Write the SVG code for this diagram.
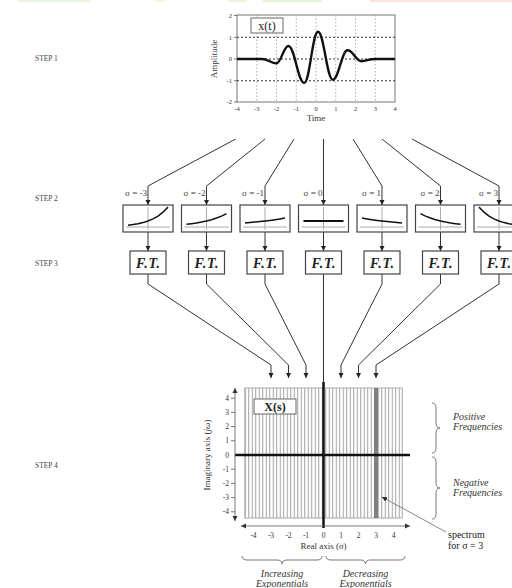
<svg xmlns="http://www.w3.org/2000/svg" width="512" height="588" viewBox="0 0 512 588">
<style>
  text { font-family: "Liberation Serif", "Times New Roman", serif; }
  .step { font-size: 7.5px; fill: #444; }
  .tick { font-size: 6.5px; fill: #333; }
  .tick2 { font-size: 7.5px; fill: #333; }
  .lab { font-size: 9px; fill: #333; }
  .sig { font-size: 9px; fill: #444; text-anchor: end; }
  .ft { font-size: 14px; font-weight: bold; font-style: italic; fill: #222; text-anchor: middle; letter-spacing: 0.8px; }
  .it { font-size: 10px; font-style: italic; fill: #333; }
  .conn { fill: none; stroke: #333; stroke-width: 1; }
  .box { fill: #fff; stroke: #444; stroke-width: 1.2; }
  .guide { stroke: #aaa; stroke-width: 1; fill: none; }
  .curve { fill: none; stroke: #111; stroke-width: 1.5; }
  .brace { fill: none; stroke: #777; stroke-width: 1; }
</style>
<defs>
  <marker id="arr" markerUnits="userSpaceOnUse" markerWidth="6" markerHeight="6" refX="5" refY="3" orient="auto">
    <path d="M0,0.5 L5,3 L0,5.5 z" fill="#222"/>
  </marker>
  <marker id="arrS" markerUnits="userSpaceOnUse" markerWidth="6" markerHeight="6" refX="5" refY="3" orient="auto-start-reverse">
    <path d="M0,0.5 L5,3 L0,5.5 z" fill="#333"/>
  </marker>
  <pattern id="hatch" x="244.75" y="0" width="3.5" height="4" patternUnits="userSpaceOnUse">
    <rect width="3.5" height="4" fill="#fff"/>
    <rect x="0" width="1" height="4" fill="#a0a0a0"/>
  </pattern>
</defs>

<!-- faint colour bars at top edge -->
<g id="topbars">
  <rect x="18" y="0" width="72" height="2" fill="#eaf6dc"/>
  <rect x="155" y="0" width="10" height="2" fill="#f2f6dc"/>
  <rect x="228" y="0" width="19" height="2" fill="#eaf6dc"/>
  <rect x="263" y="0" width="59" height="2" fill="#e4f3d6"/>
  <rect x="370" y="0" width="142" height="2" fill="#fde3dc"/>
</g>

<!-- step labels -->
<g id="steps">
  <text class="step" x="35" y="61">STEP 1</text>
  <text class="step" x="35" y="201">STEP 2</text>
  <text class="step" x="35" y="266">STEP 3</text>
  <text class="step" x="35" y="468">STEP 4</text>
</g>

<!-- STEP 1: time signal plot -->
<g id="signal-plot">
  <rect x="237" y="15" width="158" height="87" fill="#fff" stroke="#777" stroke-width="1"/>
  <g stroke="#999" stroke-width="0.8" stroke-dasharray="1.5 2">
    <line x1="256.75" y1="15" x2="256.75" y2="102"/>
    <line x1="276.5" y1="15" x2="276.5" y2="102"/>
    <line x1="296.25" y1="15" x2="296.25" y2="102"/>
    <line x1="316" y1="15" x2="316" y2="102"/>
    <line x1="335.75" y1="15" x2="335.75" y2="102"/>
    <line x1="355.5" y1="15" x2="355.5" y2="102"/>
    <line x1="375.25" y1="15" x2="375.25" y2="102"/>
  </g>
  <g stroke="#333" stroke-width="1.2" stroke-dasharray="2 2">
    <line x1="237" y1="37.25" x2="395" y2="37.25"/>
    <line x1="237" y1="59" x2="395" y2="59"/>
    <line x1="237" y1="80.75" x2="395" y2="80.75"/>
  </g>
  <g stroke="#555" stroke-width="0.8">
    <line x1="234" y1="15.5" x2="237" y2="15.5"/>
    <line x1="234" y1="37.25" x2="237" y2="37.25"/>
    <line x1="234" y1="59" x2="237" y2="59"/>
    <line x1="234" y1="80.75" x2="237" y2="80.75"/>
    <line x1="234" y1="102" x2="237" y2="102"/>
  </g>
  <g class="tick" text-anchor="end">
    <text x="232" y="17.5">2</text>
    <text x="232" y="39.5">1</text>
    <text x="232" y="61">0</text>
    <text x="232" y="83">-1</text>
    <text x="232" y="104">-2</text>
  </g>
  <g class="tick" text-anchor="middle">
    <text x="237" y="111">-4</text>
    <text x="256.75" y="111">-3</text>
    <text x="276.5" y="111">-2</text>
    <text x="296.25" y="111">-1</text>
    <text x="316" y="111">0</text>
    <text x="335.75" y="111">1</text>
    <text x="355.5" y="111">2</text>
    <text x="375.25" y="111">3</text>
    <text x="395" y="111">4</text>
  </g>
  <text class="lab" x="316" y="121" text-anchor="middle" font-size="9.5">Time</text>
  <text class="lab" transform="translate(217,59) rotate(-90)" text-anchor="middle" font-size="9">Amplitude</text>
  <path d="M237,59 L262,59 C268,59 271,63.4 276.5,63.4 C281,63.4 283.6,46 288.4,46 C294.7,46 297.9,82.9 304.2,82.9 C309.7,82.9 312.5,31.8 318,31.8 C323.9,31.8 326.9,79.7 332.8,79.7 C338.7,79.7 341.7,50.3 347.6,50.3 C353.1,50.3 355.9,61.2 361.4,61.2 C366,61.2 369,59 375,59 L395,59" fill="none" stroke="#111" stroke-width="2.4"/>
  <rect x="251" y="18" width="32" height="15" fill="#fff" stroke="#666" stroke-width="1"/>
  <text x="267" y="29.5" text-anchor="middle" font-size="12" fill="#222">x(t)</text>
</g>

<!-- connectors -->
<g id="connectors">
  <path class="conn" d="M235.7,139 L148,186 L148,205" marker-end="url(#arr)"/>
  <path class="conn" d="M265,139 L206.5,186 L206.5,205" marker-end="url(#arr)"/>
  <path class="conn" d="M294,139 L265,186 L265,205" marker-end="url(#arr)"/>
  <path class="conn" d="M323.5,139 L323.5,205" marker-end="url(#arr)"/>
  <path class="conn" d="M353,139 L382,186 L382,205" marker-end="url(#arr)"/>
  <path class="conn" d="M382,139 L440.5,186 L440.5,205" marker-end="url(#arr)"/>
  <path class="conn" d="M412,139 L499,186 L499,205" marker-end="url(#arr)"/>

  <path class="conn" d="M148,232 L148,251" marker-end="url(#arr)"/>
  <path class="conn" d="M206.5,232 L206.5,251" marker-end="url(#arr)"/>
  <path class="conn" d="M265,232 L265,251" marker-end="url(#arr)"/>
  <path class="conn" d="M323.5,232 L323.5,251" marker-end="url(#arr)"/>
  <path class="conn" d="M382,232 L382,251" marker-end="url(#arr)"/>
  <path class="conn" d="M440.5,232 L440.5,251" marker-end="url(#arr)"/>
  <path class="conn" d="M499,232 L499,251" marker-end="url(#arr)"/>

  <path class="conn" d="M148,274 L148,284 L271,365 L271,378" marker-end="url(#arr)"/>
  <path class="conn" d="M206.5,274 L206.5,284 L288.5,365 L288.5,378" marker-end="url(#arr)"/>
  <path class="conn" d="M265,274 L265,284 L306,365 L306,378" marker-end="url(#arr)"/>
  <path class="conn" d="M323.5,274 L323.5,383"/>
  <path class="conn" d="M382,274 L382,284 L341,365 L341,378" marker-end="url(#arr)"/>
  <path class="conn" d="M440.5,274 L440.5,284 L358.5,365 L358.5,378" marker-end="url(#arr)"/>
  <path class="conn" d="M499,274 L499,284 L376,365 L376,378" marker-end="url(#arr)"/>
</g>

<!-- STEP 2: exponential weighting boxes -->
<g id="exp-m3">
  <text class="sig" x="147" y="196">σ = -3</text>
  <rect class="box" x="123" y="205" width="50" height="27"/>
  <line class="guide" x1="126" y1="227" x2="170" y2="227"/>
  <line class="guide" x1="148" y1="207" x2="148" y2="230"/>
  <polyline class="curve" points="128,225.2 133,224.6 138,223.7 143,222.6 148,221 153,218.9 158,216.1 163,212.2 168,207.1"/>
</g>
<g id="exp-m2">
  <text class="sig" x="205.5" y="196">σ = -2</text>
  <rect class="box" x="181.5" y="205" width="50" height="27"/>
  <line class="guide" x1="184.5" y1="227" x2="228.5" y2="227"/>
  <line class="guide" x1="206.5" y1="207" x2="206.5" y2="230"/>
  <polyline class="curve" points="186.5,224.3 191.5,223.7 196.5,223 201.5,222.1 206.5,221 211.5,219.7 216.5,218 221.5,216.1 226.5,213.6"/>
</g>
<g id="exp-m1">
  <text class="sig" x="264" y="196">σ = -1</text>
  <rect class="box" x="240" y="205" width="50" height="27"/>
  <line class="guide" x1="243" y1="227" x2="287" y2="227"/>
  <line class="guide" x1="265" y1="207" x2="265" y2="230"/>
  <polyline class="curve" points="245,223 250,222.6 255,222.1 260,221.6 265,221 270,220.4 275,219.7 280,218.9 285,218"/>
</g>
<g id="exp-0">
  <text class="sig" x="322.5" y="196">σ = 0</text>
  <rect class="box" x="298.5" y="205" width="50" height="27"/>
  <line class="guide" x1="301.5" y1="227" x2="345.5" y2="227"/>
  <line class="guide" x1="323.5" y1="207" x2="323.5" y2="230"/>
  <line x1="303.5" y1="221" x2="343.5" y2="221" stroke="#111" stroke-width="2"/>
</g>
<g id="exp-p1">
  <text class="sig" x="381" y="196">σ = 1</text>
  <rect class="box" x="357" y="205" width="50" height="27"/>
  <line class="guide" x1="360" y1="227" x2="404" y2="227"/>
  <line class="guide" x1="382" y1="207" x2="382" y2="230"/>
  <polyline class="curve" points="362,218 367,218.9 372,219.7 377,220.4 382,221 387,221.6 392,222.1 397,222.6 402,223"/>
</g>
<g id="exp-p2">
  <text class="sig" x="439.5" y="196">σ = 2</text>
  <rect class="box" x="415.5" y="205" width="50" height="27"/>
  <line class="guide" x1="418.5" y1="227" x2="462.5" y2="227"/>
  <line class="guide" x1="440.5" y1="207" x2="440.5" y2="230"/>
  <polyline class="curve" points="420.5,213.6 425.5,216.1 430.5,218 435.5,219.7 440.5,221 445.5,222.1 450.5,223 455.5,223.7 460.5,224.3"/>
</g>
<g id="exp-p3">
  <text class="sig" x="498" y="196">σ = 3</text>
  <rect class="box" x="474" y="205" width="50" height="27"/>
  <line class="guide" x1="477" y1="227" x2="521" y2="227"/>
  <line class="guide" x1="499" y1="207" x2="499" y2="230"/>
  <polyline class="curve" points="479,207.1 484,212.2 489,216.1 494,218.9 499,221 504,222.6 509,223.7 514,224.6 519,225.2"/>
</g>

<!-- STEP 3: Fourier transform boxes -->
<g id="ft-m3"><rect class="box" x="130" y="251" width="36" height="23"/><text class="ft" x="148.4" y="267.5">F.T.</text></g>
<g id="ft-m2"><rect class="box" x="188.5" y="251" width="36" height="23"/><text class="ft" x="206.9" y="267.5">F.T.</text></g>
<g id="ft-m1"><rect class="box" x="247" y="251" width="36" height="23"/><text class="ft" x="265.4" y="267.5">F.T.</text></g>
<g id="ft-0"><rect class="box" x="305.5" y="251" width="36" height="23"/><text class="ft" x="323.9" y="267.5">F.T.</text></g>
<g id="ft-p1"><rect class="box" x="364" y="251" width="36" height="23"/><text class="ft" x="382.4" y="267.5">F.T.</text></g>
<g id="ft-p2"><rect class="box" x="422.5" y="251" width="36" height="23"/><text class="ft" x="440.9" y="267.5">F.T.</text></g>
<g id="ft-p3"><rect class="box" x="481" y="251" width="36" height="23"/><text class="ft" x="499.4" y="267.5">F.T.</text></g>

<!-- STEP 4: s-plane -->
<g id="s-plane">
  <rect x="244.75" y="388" width="157.5" height="130" fill="url(#hatch)" stroke="#aaa" stroke-width="1"/>
  <line x1="376" y1="388" x2="376" y2="518" stroke="#808080" stroke-width="4"/>
  <line x1="235" y1="455" x2="410" y2="455" stroke="#111" stroke-width="2.5"/>
  <line x1="323.5" y1="382" x2="323.5" y2="528" stroke="#111" stroke-width="2.5"/>
  <rect x="254" y="399" width="42" height="15" fill="#fff" stroke="#666" stroke-width="1"/>
  <text x="275" y="411" text-anchor="middle" font-size="12" font-weight="bold" fill="#222">X(s)</text>

  <!-- vertical axis -->
  <line x1="235" y1="388" x2="235" y2="521" stroke="#555" stroke-width="0.8" marker-start="url(#arrS)" marker-end="url(#arrS)"/>
  <g stroke="#555" stroke-width="0.8">
    <line x1="231" y1="398.2" x2="235" y2="398.2"/>
    <line x1="231" y1="412.4" x2="235" y2="412.4"/>
    <line x1="231" y1="426.6" x2="235" y2="426.6"/>
    <line x1="231" y1="440.8" x2="235" y2="440.8"/>
    <line x1="231" y1="469.2" x2="235" y2="469.2"/>
    <line x1="231" y1="483.4" x2="235" y2="483.4"/>
    <line x1="231" y1="497.6" x2="235" y2="497.6"/>
    <line x1="231" y1="511.8" x2="235" y2="511.8"/>
  </g>
  <g class="tick2" text-anchor="end">
    <text x="229" y="400.8">4</text>
    <text x="229" y="415">3</text>
    <text x="229" y="429.2">2</text>
    <text x="229" y="443.4">1</text>
    <text x="229" y="457.6">0</text>
    <text x="229" y="471.8">-1</text>
    <text x="229" y="486">-2</text>
    <text x="229" y="500.2">-3</text>
    <text x="229" y="514.4">-4</text>
  </g>
  <text class="lab" transform="translate(210,455) rotate(-90)" text-anchor="middle" font-size="10">Imaginary axis (<tspan font-style="italic">jω</tspan>)</text>

  <!-- horizontal axis -->
  <line x1="241" y1="526" x2="410" y2="526" stroke="#555" stroke-width="0.8" marker-start="url(#arrS)" marker-end="url(#arrS)"/>
  <g class="tick2" text-anchor="middle">
    <text x="253.5" y="538">-4</text>
    <text x="271" y="538">-3</text>
    <text x="288.5" y="538">-2</text>
    <text x="306" y="538">-1</text>
    <text x="323.5" y="538">0</text>
    <text x="341" y="538">1</text>
    <text x="358.5" y="538">2</text>
    <text x="376" y="538">3</text>
    <text x="393.5" y="538">4</text>
  </g>
  <text class="lab" x="323.5" y="549" text-anchor="middle" font-size="10">Real axis (<tspan font-style="italic">σ</tspan>)</text>
</g>

<!-- annotations -->
<g id="freq-labels">
  <path class="brace" d="M432,403 Q436,403 436,408 L436,423 Q436,428 440,428 Q436,428 436,433 L436,448 Q436,453 432,453"/>
  <path class="brace" d="M432,457 Q436,457 436,462 L436,483 Q436,488 440,488 Q436,488 436,493 L436,514 Q436,519 432,519"/>
  <text class="it" x="453" y="420" font-size="9.5">Positive</text>
  <text class="it" x="453" y="430" font-size="9.5">Frequencies</text>
  <text class="it" x="453" y="486" font-size="9.5">Negative</text>
  <text class="it" x="453" y="496" font-size="9.5">Frequencies</text>
</g>
<g id="spectrum-label">
  <line x1="446" y1="532" x2="382" y2="497" stroke="#666" stroke-width="0.8" marker-end="url(#arr)"/>
  <text x="448" y="538" font-size="10" fill="#222">spectrum</text>
  <text x="448" y="549" font-size="10" fill="#222">for σ = 3</text>
</g>
<g id="exp-labels">
  <path class="brace" d="M242,556 Q242,560 247,560 L277,560 Q282,560 282,564 Q282,560 287,560 L317,560 Q322,560 322,556"/>
  <path class="brace" d="M326,556 Q326,560 331,560 L360.5,560 Q365.5,560 365.5,564 Q365.5,560 370.5,560 L400,560 Q405,560 405,556"/>
  <text class="it" x="282" y="577" text-anchor="middle">Increasing</text>
  <text class="it" x="282" y="587" text-anchor="middle">Exponentials</text>
  <text class="it" x="365.5" y="577" text-anchor="middle">Decreasing</text>
  <text class="it" x="365.5" y="587" text-anchor="middle">Exponentials</text>
</g>
</svg>
